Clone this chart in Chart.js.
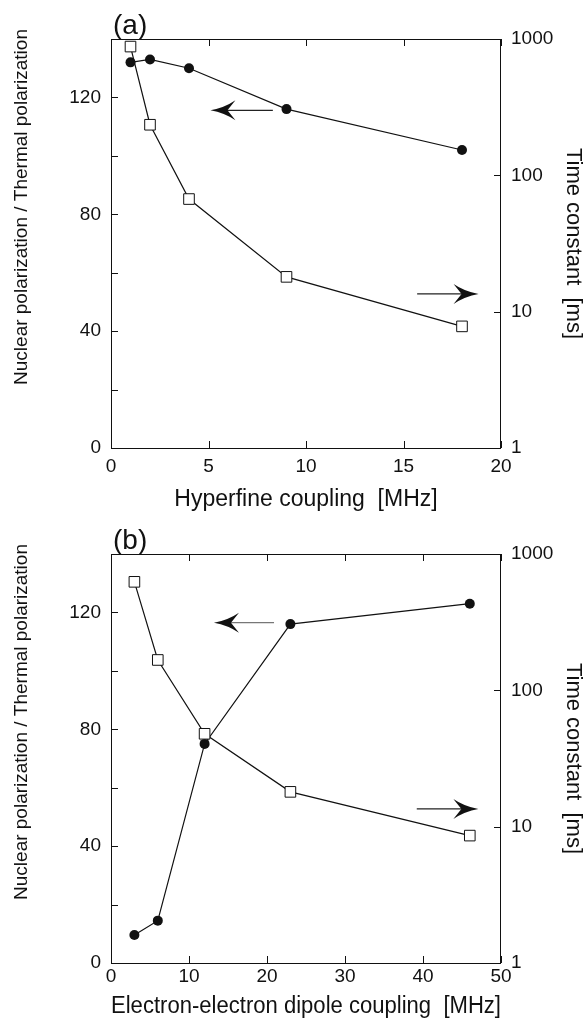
<!DOCTYPE html>
<html>
<head>
<meta charset="utf-8">
<script src="https://cdn.jsdelivr.net/npm/chart.js@4.4.1/dist/chart.umd.min.js"></script>
<style>
  body { margin: 0; background: #fff; }
  #wrap { position: relative; width: 586px; height: 1025px; }
  canvas { position: absolute; left: 0; }
</style>
</head>
<body>
<div id="wrap">
  <canvas id="chartA" width="586" height="515" style="top:0"></canvas>
  <canvas id="chartB" width="586" height="510" style="top:515px"></canvas>
</div>
<script>
// (a) hyperfine coupling
const hfCoupling = [1, 2, 4, 9, 18];
const hfPolarization = [132, 133, 130, 116, 102];
const hfTimeConst = [880, 235, 67, 18, 7.8];

// (b) electron-electron dipole coupling
const ddCoupling = [3, 6, 12, 23, 46];
const ddPolarization = [9.6, 14.5, 75, 116, 123];
const ddTimeConst = [625, 167, 48, 18, 8.6];

// tick labels
const hfTickLabels = [0, 5, 10, 15, 20];
const ddTickLabels = [0, 10, 20, 30, 40, 50];
const polTickLabels = [0, 40, 80, 120];
const timeTickLabels = [1, 10, 100, 1000];

Chart.defaults.font.family = "'Liberation Sans', Arial, sans-serif";
Chart.defaults.color = "#111";

// frame, inward ticks, arrows and extra labels
const frame = {
  id: "frame",
  afterDraw(chart, args, o) {
    const { ctx, chartArea: a, scales } = chart;
    const tl = 7;
    ctx.save();
    ctx.strokeStyle = "#111";
    ctx.lineWidth = 1;
    ctx.strokeRect(a.left + 0.5, a.top + 0.5, a.right - a.left - 1, a.bottom - a.top);

    ctx.beginPath();
    scales.x.ticks.forEach(t => {
      const px = Math.round(scales.x.getPixelForValue(t.value)) + 0.5;
      ctx.moveTo(px, a.bottom); ctx.lineTo(px, a.bottom - tl);
      ctx.moveTo(px, a.top); ctx.lineTo(px, a.top + tl);
    });
    scales.y.ticks.forEach(t => {
      const py = Math.round(scales.y.getPixelForValue(t.value)) + 0.5;
      ctx.moveTo(a.left, py); ctx.lineTo(a.left + tl, py);
    });
    scales.y2.ticks.forEach(t => {
      const py = Math.round(scales.y2.getPixelForValue(t.value)) + 0.5;
      ctx.moveTo(a.right, py); ctx.lineTo(a.right - tl, py);
    });
    ctx.stroke();

    // arrows pointing to the axis of each series
    o.arrows.forEach(ar => {
      const y = scales[ar.axis].getPixelForValue(ar.y);
      const x0 = scales.x.getPixelForValue(ar.from);
      const x1 = scales.x.getPixelForValue(ar.to);
      const d = Math.sign(x1 - x0);
      ctx.strokeStyle = ar.color;
      ctx.lineWidth = 1.2;
      ctx.beginPath();
      ctx.moveTo(x0, y);
      ctx.lineTo(x1 - d * 16, y);
      ctx.stroke();
      ctx.fillStyle = "#111";
      ctx.beginPath();
      ctx.moveTo(x1, y);
      ctx.quadraticCurveTo(x1 - d * 14, y - 2.5, x1 - d * 25, y - 10);
      ctx.lineTo(x1 - d * 17, y);
      ctx.lineTo(x1 - d * 25, y + 10);
      ctx.quadraticCurveTo(x1 - d * 14, y + 2.5, x1, y);
      ctx.fill();
    });

    // panel label
    ctx.fillStyle = "#111";
    ctx.font = "28px 'Liberation Sans', Arial, sans-serif";
    ctx.textAlign = "left";
    ctx.textBaseline = "alphabetic";
    ctx.fillText(o.panel, 113, 34);

    // left axis title
    ctx.font = "19px 'Liberation Sans', Arial, sans-serif";
    ctx.translate(22, 207);
    ctx.rotate(-Math.PI / 2);
    ctx.textAlign = "center";
    ctx.textBaseline = "middle";
    ctx.fillText("Nuclear polarization / Thermal polarization", 0, 0);
    ctx.restore();
  }
};

function makeChart(id, xs, pol, time, xTicks, cfg) {
  new Chart(document.getElementById(id), {
    type: "scatter",
    data: {
      datasets: [
        {
          data: xs.map((x, i) => ({ x: x, y: time[i] })),
          yAxisID: "y2",
          showLine: true,
          borderColor: "#111",
          borderWidth: 1.2,
          pointStyle: "rect",
          pointRadius: 7.5,
          pointBackgroundColor: "#fff",
          pointBorderColor: "#111",
          pointBorderWidth: 1
        },
        {
          data: xs.map((x, i) => ({ x: x, y: pol[i] })),
          yAxisID: "y",
          showLine: true,
          borderColor: "#111",
          borderWidth: 1.2,
          pointStyle: "circle",
          pointRadius: 5,
          pointBackgroundColor: "#111",
          pointBorderColor: "#111",
          pointBorderWidth: 0
        }
      ]
    },
    options: {
      responsive: false,
      animation: false,
      devicePixelRatio: 1,
      layout: { padding: { top: 39, left: 0, right: 0, bottom: 0 } },
      plugins: {
        legend: { display: false },
        tooltip: { enabled: false },
        frame: { panel: cfg.panel, arrows: cfg.arrows }
      },
      scales: {
        x: {
          type: "linear",
          position: "bottom",
          min: xTicks[0],
          max: xTicks[xTicks.length - 1],
          afterBuildTicks: s => { s.ticks = xTicks.map(v => ({ value: v })); },
          afterFit: s => { s.height = cfg.xHeight; },
          grid: { display: false, drawTicks: false },
          border: { display: false },
          ticks: { font: { size: 19 }, padding: cfg.xTickPad, maxRotation: 0 },
          title: {
            display: true,
            text: cfg.xTitle,
            font: { size: 23 },
            padding: { top: 0, bottom: cfg.xTitlePad }
          }
        },
        y: {
          type: "linear",
          position: "left",
          min: 0,
          max: 140,
          ticks: {
            stepSize: 20,
            font: { size: 19 },
            padding: 10,
            callback: v => (polTickLabels.includes(v) ? v : "")
          },
          afterFit: s => { s.width = 111; },
          grid: { display: false, drawTicks: false },
          border: { display: false }
        },
        y2: {
          type: "logarithmic",
          position: "right",
          min: 1,
          max: 1000,
          afterBuildTicks: s => { s.ticks = timeTickLabels.map(v => ({ value: v })); },
          afterFit: s => { s.width = 85; },
          ticks: { font: { size: 19 }, padding: 10, callback: v => String(v) },
          grid: { display: false, drawTicks: false },
          border: { display: false },
          title: {
            display: true,
            text: "Time constant  [ms]",
            font: { size: 22 },
            padding: 0
          }
        }
      }
    },
    plugins: [frame]
  });
}

makeChart("chartA", hfCoupling, hfPolarization, hfTimeConst, hfTickLabels, {
  panel: "(a)",
  xTitle: "Hyperfine coupling  [MHz]",
  xHeight: 67,
  xTickPad: 7,
  xTitlePad: 2,
  arrows: [
    { axis: "y", y: 115.6, from: 8.3, to: 5.1, color: "#222" },
    { axis: "y2", y: 13.5, from: 15.7, to: 18.85, color: "#222" }
  ]
});

makeChart("chartB", ddCoupling, ddPolarization, ddTimeConst, ddTickLabels, {
  panel: "(b)",
  xTitle: "Electron-electron dipole coupling  [MHz]",
  xHeight: 62,
  xTickPad: 2,
  xTitlePad: 5,
  arrows: [
    { axis: "y", y: 116.5, from: 20.9, to: 13.2, color: "#777" },
    { axis: "y2", y: 13.5, from: 39.2, to: 47.1, color: "#222" }
  ]
});
</script>
</body>
</html>
